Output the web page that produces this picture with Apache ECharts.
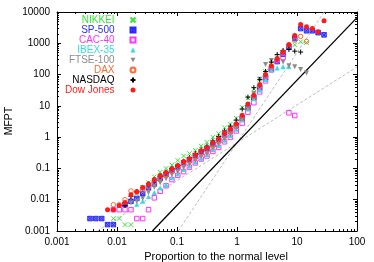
<!DOCTYPE html>
<html><head><meta charset="utf-8">
<script src="https://cdn.jsdelivr.net/npm/echarts@6/dist/echarts.min.js"></script>
<style>html,body{margin:0;padding:0;background:#fff}#c{width:374px;height:262px}</style>
</head><body><div id="c"></div>
<script>
// shared x bins (proportion to the normal level)
const xs = [0.00355,0.00444,0.00556,0.00696,0.00871,0.0109,0.0136,0.0171,0.0214,0.0268,0.0335,0.0419,0.0525,0.0657,0.0822,0.103,0.129,0.161,0.202,0.253,0.316,0.396,0.495,0.620,0.776,0.972,1.22,1.52,1.91,2.39,2.99,3.74,4.68,5.86,7.33,9.17,11.5,14.4,18.0,22.5,28.2];

const nikkei = [null,null,null,null,0.0025,0.0025,0.0016,0.0016,0.016,0.025,0.035,0.054,0.076,0.1,0.13,0.18,0.25,0.3,0.38,0.52,0.68,1.0,1.3,2.0,2.6,4.0,8.9,18,35,71,126,224,355,500,710,890,1120,1050,null,null,null];
const sp500 = [0.0025,0.0025,0.0025,0.0016,0.0016,null,0.0071,0.0089,0.011,0.016,0.024,0.032,0.047,0.063,0.085,0.11,0.15,0.19,0.25,0.32,0.42,0.58,0.79,1.17,1.58,2.3,4.0,8.9,18,38,79,150,260,450,760,1410,2950,2510,2510,2190,1860];
const cac40 = [null,null,null,null,0.0048,0.0048,0.0048,0.0048,0.0025,0.0025,0.0048,0.0115,0.0186,0.028,0.044,0.06,0.079,0.11,0.15,0.2,0.25,0.35,0.47,0.71,1.0,1.58,2.8,6.3,12.6,28,63,141,280,350,6.0,4.9,null,null,null,null,null];
const ibex35 = [null,null,null,null,null,null,null,null,0.0071,0.0089,0.0126,0.017,0.024,0.03,0.05,0.066,0.093,0.12,0.16,0.21,0.28,0.4,0.54,0.79,1.12,1.78,3.5,7.9,17,32,69,141,162,178,182,null,null,null,null,null,null];
const ftse100 = [null,null,null,null,null,null,null,0.0079,0.0089,0.011,0.017,0.025,0.035,0.047,0.063,0.079,0.107,0.135,0.18,0.24,0.3,0.44,0.6,0.89,1.26,2.0,4.2,10,25,71,210,280,316,250,190,178,145,112,null,null,null];
const dax = [null,null,null,null,0.0069,0.0069,0.01,0.019,0.018,0.02,0.026,0.036,0.05,0.06,0.079,0.1,0.13,0.17,0.22,0.3,0.37,0.52,0.71,1.05,1.48,2.24,4.0,8.9,20,42,89,180,316,525,830,1260,1660,1150,null,null,null];
const nasdaq = [null,null,null,null,null,null,0.0065,0.0126,0.018,0.024,0.032,0.042,0.058,0.076,0.1,0.126,0.17,0.22,0.3,0.4,0.52,0.76,1.05,1.58,2.24,3.5,7.9,19,38,69,126,250,440,590,630,560,525,null,null,null,null];
const dowJones = [null,null,null,0.0048,0.0048,0.0065,0.0081,0.0145,0.018,0.0245,0.032,0.044,0.059,0.074,0.098,0.123,0.166,0.204,0.275,0.37,0.46,0.66,0.89,1.38,1.86,2.7,5.0,11.5,22,48,100,190,316,525,912,1780,3980,3390,2950,2340,5250];

// reference power-law lines (end points)
const lineSolid = [[0.0389,0.001],[100,6600]];
const lineSteep = [[0.105,0.001],[28.3,10000]];
const lineShallow = [[0.0047,0.001],[100,174]];

const seriesNames = ['NIKKEI','SP-500','CAC-40','IBEX-35','FTSE-100','DAX','NASDAQ','Dow Jones'];
const seriesValues = [nikkei, sp500, cac40, ibex35, ftse100, dax, nasdaq, dowJones];
const xTickLabels = ['0.001','0.01','0.1','1','10','100'];
const yTickLabels = ['0.001','0.01','0.1','1','10','100','1000','10000'];

const FONT = '"Liberation Sans", Arial, sans-serif';
const colors = ['#33e633','#2a2aff','#ff33ff','#33dede','#8c8c8c','#ff6a33','#000000','#ff1a1a'];
const styles = [
  {symbol:'path://M0,0L10,10M10,0L0,10', fill:'none', stroke:colors[0], size:4.5},
  {symbol:'path://M0,0H10V10H0ZM0,0L10,10M10,0L0,10', fill:'#7d7dff', stroke:colors[1], size:4.5},
  {symbol:'rect', fill:'none', stroke:colors[2], size:4.5},
  {symbol:'triangle', fill:colors[3], stroke:null, size:5},
  {symbol:'path://M0,0H10L5,9Z', fill:colors[4], stroke:null, size:5},
  {symbol:'circle', fill:'none', stroke:colors[5], size:4.5},
  {symbol:'path://M5,0V10M0,5H10', fill:'none', stroke:colors[6], size:5},
  {symbol:'circle', fill:colors[7], stroke:null, size:5}
];

const pairs = ys => xs.map((x,i) => ys[i] == null ? null : [x, ys[i]]).filter(p => p);
const minorVals = (a,b) => { const o=[]; for (let e=a;e<b;e++) for (let m=2;m<=9;m++) o.push(+(m*Math.pow(10,e)).toPrecision(3)); return o; };

function axisCfg(kind, pos, min, max, labels, major, minor) {
  const a = {
    type:'log', logBase:10, min:min, max:max, position:pos, gridIndex:0,
    splitLine:{show:false},
    axisLine:{show: major, onZero:false, lineStyle:{color:'#000', width:1}},
    axisTick:{show:true, inside:true, length: major ? 4 : 2, lineStyle:{color:'#000', width:1}},
    axisLabel:{show:false}
  };
  if (major) a.interval = 1;
  if (minor) a.axisTick.customValues = minor;
  if (labels) {
    a.axisLabel = {show:true, fontSize:10, fontFamily:FONT, color:'#000', margin: kind==='x' ? 6 : 7,
      formatter: v => labels[Math.round(Math.log10(v) - Math.log10(min))]};
  }
  return a;
}

const series = [
  {type:'line', data:lineShallow, showSymbol:false, silent:true, lineStyle:{color:'#bdbdbd', width:1, type:[3,2]}, z:1},
  {type:'line', data:lineSteep, showSymbol:false, silent:true, lineStyle:{color:'#bdbdbd', width:1, type:[3,2]}, z:1},
  {type:'line', data:lineSolid, showSymbol:false, silent:true, lineStyle:{color:'#000', width:1.3}, z:1}
];
seriesNames.forEach((n,i) => {
  const s = styles[i];
  series.push({
    type:'scatter', name:n, data:pairs(seriesValues[i]), symbol:s.symbol, symbolSize:s.size, z:2+i,
    itemStyle:{color:s.fill, borderColor:s.stroke || s.fill, borderWidth: s.stroke ? 1 : 0, opacity:1}
  });
});

const chart = echarts.init(document.getElementById('c'), null, {renderer:'canvas'});
chart.setOption({
  animation:false,
  backgroundColor:'#fff',
  textStyle:{fontFamily:FONT},
  grid:{left:57, right:17, top:12, bottom:31, containLabel:false},
  xAxis:[
    axisCfg('x','bottom',0.001,100,xTickLabels,true,null),
    axisCfg('x','top',0.001,100,null,true,null),
    axisCfg('x','bottom',0.001,100,null,false,minorVals(-3,2)),
    axisCfg('x','top',0.001,100,null,false,minorVals(-3,2))
  ],
  yAxis:[
    axisCfg('y','left',0.001,10000,yTickLabels,true,null),
    axisCfg('y','right',0.001,10000,null,true,null),
    axisCfg('y','left',0.001,10000,null,false,minorVals(-3,4)),
    axisCfg('y','right',0.001,10000,null,false,minorVals(-3,4))
  ],
  legend:{
    orient:'vertical', align:'right', right:236, top:15, padding:0, itemGap:0,
    itemWidth:5, itemHeight:5, selectedMode:false,
    textStyle:{fontSize:10, fontFamily:FONT, padding:[0,11,0,0]},
    data: seriesNames.map((n,i) => ({name:n, textStyle:{color: colors[i], padding:[0,11,0,0]}}))
  },
  graphic:[
    {type:'text', x:216, y:257, style:{text:'Proportion to the normal level', font:'11px ' + FONT, fill:'#000', align:'center', verticalAlign:'middle'}},
    {type:'text', x:9, y:121, rotation:Math.PI/2, style:{text:'MFPT', font:'10.5px ' + FONT, fill:'#000', align:'center', verticalAlign:'middle'}}
  ],
  series:series
});
</script></body></html>
